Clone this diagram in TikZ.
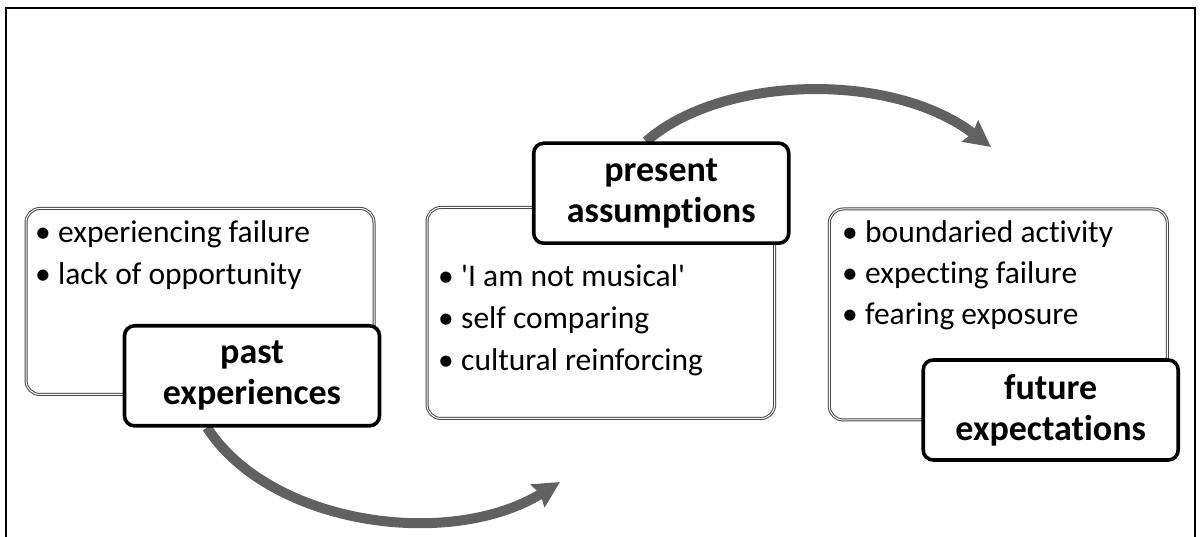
\documentclass[tikz,border=0pt]{standalone}
\usepackage{fontspec}
\setmainfont{Carlito}[Ligatures={NoCommon}]
\usetikzlibrary{arrows.meta}
\pgfdeclarelayer{back}
\pgfsetlayers{back,main}
\begin{document}
\begin{tikzpicture}[x=1pt,y=-1pt,
  listbox/.style={draw=black!72, double=white, double distance=1pt, line width=1pt,
    rounded corners=14pt, anchor=north west, inner sep=0pt},
  tag/.style={draw=black, fill=white, line width=3.6pt, rounded corners=10pt,
    minimum width=255pt, minimum height=100pt, align=center, inner sep=0pt,
    font=\fontsize{36}{41}\selectfont\bfseries},
  item/.style={anchor=base west, inner sep=0pt, font=\fontsize{31.5}{36}\selectfont},
  flow/.style={draw=black!62, line width=10pt,
    -{Stealth[length=26pt,width=26pt,inset=3pt]}}
]
\useasboundingbox (0,0) rectangle (1203,537);

% outer frame
\draw[line width=2pt] (6,545) -- (6,8.2) -- (1195,8.2) -- (1195,545);

% list boxes
\node[listbox, minimum width=348pt, minimum height=186pt] (pastbox) at (25.5,208) {};
\node[listbox, minimum width=347.7pt, minimum height=211pt] (presentbox) at (426.5,207) {};
\node[listbox, minimum width=338pt, minimum height=211pt] (futurebox) at (828.8,208.5) {};

% bullet items
\newcommand{\bul}{\makebox[23pt][l]{•}}
\node[item] (pa1) at (35,243) {\bul experiencing failure};
\node[item] (pa2) at (35,285) {\bul lack of opportunity};

\node[item] (pr1) at (438,287) {\bul \textquotesingle I am not musical\textquotesingle};
\node[item] (pr2) at (438,329) {\bul self comparing};
\node[item] (pr3) at (438,371) {\bul cultural reinforcing};

\node[item] (fu1) at (842,243) {\bul boundaried activity};
\node[item] (fu2) at (842,284) {\bul expecting failure};
\node[item] (fu3) at (842,325) {\bul fearing exposure};

% stage labels
\node[tag] (past) at (252,375.8) {past\\experiences};
\node[tag] (present) at (661.2,193.2) {present\\assumptions};
\node[tag] (future) at (1050.7,410) {future\\expectations};

% flow arrows
\coordinate (toPresent) at (560,482);
\coordinate (toFuture) at (991,147);
\begin{pgfonlayer}{back}
\draw[flow] ([xshift=-45pt]past.south) .. controls (270,525) and (450,550) .. (toPresent);
\draw[flow] ([xshift=-15pt]present.north) .. controls (720,76) and (890,70) .. (toFuture);
\end{pgfonlayer}
\end{tikzpicture}
\end{document}
